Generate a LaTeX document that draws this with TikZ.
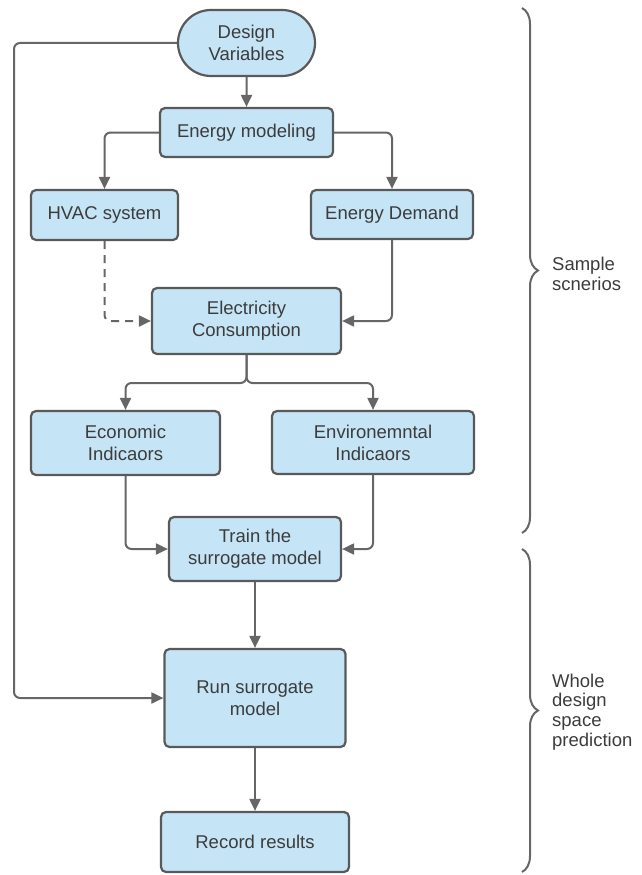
\documentclass[tikz,border=0pt]{standalone}
\usepackage{fontspec}
\setmainfont{Liberation Sans}
\usetikzlibrary{arrows.meta,shapes.misc,decorations.pathreplacing}
\definecolor{boxfill}{HTML}{C5E4F6}
\definecolor{boxline}{HTML}{595959}
\definecolor{linkgray}{HTML}{666666}
\definecolor{textgray}{HTML}{3C3C3C}

\begin{document}
\begin{tikzpicture}[x=1pt, y=-1pt, >={Triangle[length=12pt,width=11pt]},
    flowbox/.style={draw=boxline, fill=boxfill, line width=2.2pt,
        rounded corners=5pt, text=textgray, align=center, inner sep=0pt,
        font=\fontsize{18.5}{22}\selectfont},
    terminal/.style={flowbox, rounded rectangle, rounded corners=0pt},
    link/.style={draw=linkgray, line width=2pt, rounded corners=6pt, ->},
    bracket/.style={draw=linkgray, line width=2pt,
        decorate, decoration={brace, amplitude=16pt}},
    bracelabel/.style={anchor=west, align=left, text=textgray,
        inner sep=0pt, font=\fontsize{18.5}{19.8}\selectfont}]
    % Frame of the whole figure.
    \useasboundingbox (0,0) rectangle (642,875);

    \node[terminal, minimum width=137pt, minimum height=66pt] (design) at (246.5,43) {Design\\Variables};
    \node[flowbox, minimum width=173pt, minimum height=49pt] (energy) at (246.5,132.5) {Energy modeling};
    \node[flowbox, minimum width=147pt, minimum height=50pt] (hvac) at (104.5,215) {HVAC system};
    \node[flowbox, minimum width=162pt, minimum height=49pt] (demand) at (392,214.5) {Energy Demand};
    \node[flowbox, minimum width=189pt, minimum height=66pt] (elec) at (246.5,321) {Electricity\\Consumption};
    \node[flowbox, minimum width=189pt, minimum height=64pt] (econ) at (125.5,443) {Economic\\Indicaors};
    \node[flowbox, minimum width=202pt, minimum height=63pt] (enviro) at (373,442.5) {Environemntal\\Indicaors};
    \node[flowbox, minimum width=172pt, minimum height=64pt] (train) at (255,549) {Train the\\surrogate model};
    \node[flowbox, minimum width=181pt, minimum height=98pt] (run) at (255,698) {Run surrogate\\model};
    \node[flowbox, minimum width=188pt, minimum height=60pt] (record) at (255,842) {Record results};

    \coordinate (split) at (246.5,383);
    \coordinate (loop) at (14,43);

    \draw[link] (design) -- (energy);
    \draw[link] (energy.west) -| (hvac.north);
    \draw[link] (energy.east) -| (demand.north);
    \draw[link, dash pattern=on 8pt off 6pt] (hvac.south) |- (elec.west);
    \draw[link] (demand.south) |- (elec.east);
    \draw[link] (elec.south) -- (split) -| (econ.north);
    \draw[link] (elec.south) -- (split) -| (enviro.north);
    \draw[link] (econ.south) |- (train.west);
    \draw[link] (enviro.south) |- (train.east);
    \draw[link] (train) -- (run);
    \draw[link] (run) -- (record);
    \draw[link] (design.west) -- (loop) |- (run.west);

    % Braces on the right.
    \draw[bracket] (522,8) -- (522,533);
    \draw[bracket] (522,549) -- (522,872);
    \node[bracelabel] (sample) at (552,274) {Sample\\scnerios};
    \node[bracelabel] (whole) at (552,712) {Whole\\design\\space\\prediction};
\end{tikzpicture}
\end{document}
